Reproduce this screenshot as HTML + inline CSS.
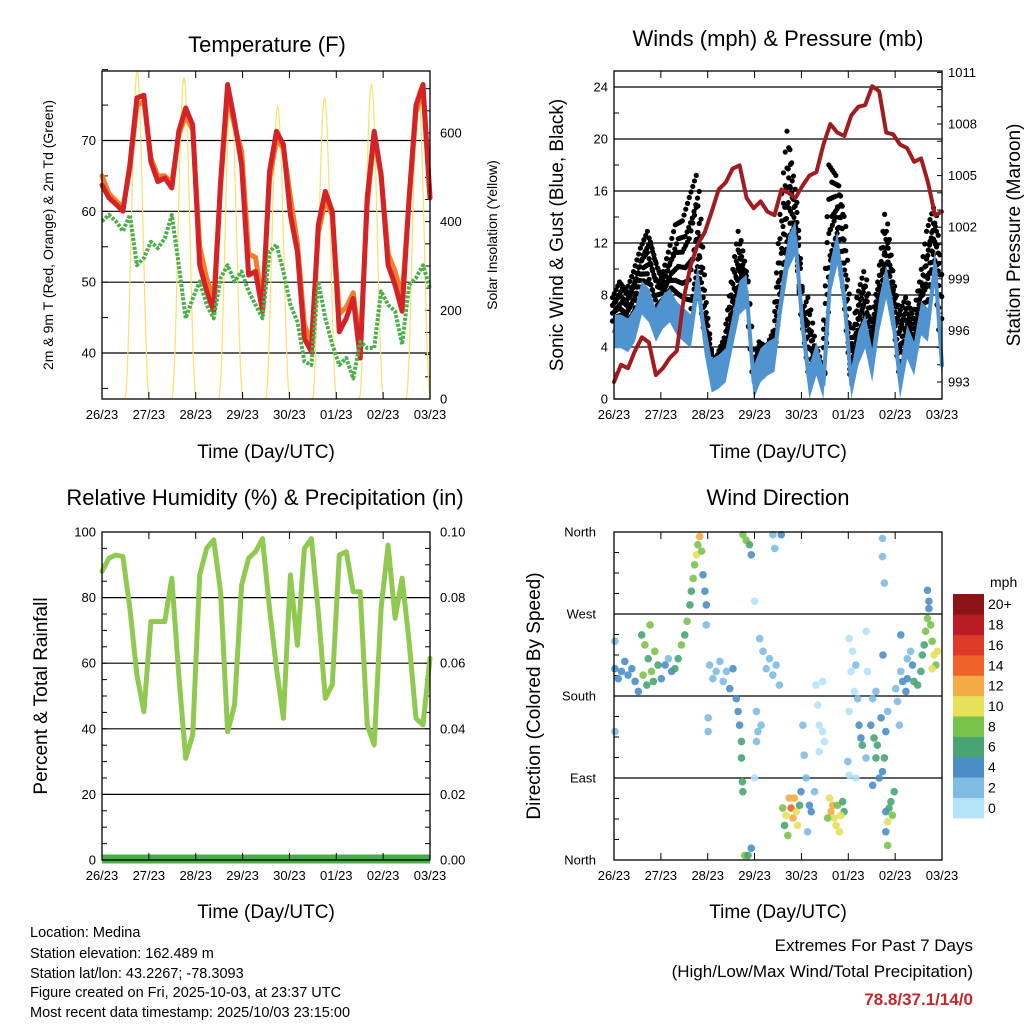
<!DOCTYPE html>
<html><head><meta charset="utf-8"><style>
html,body{margin:0;padding:0;background:#fff;}
svg{display:block;font-family:"Liberation Sans",sans-serif;}
</style></head><body>
<svg id="s" width="1024" height="1024" viewBox="0 0 1024 1024">
<rect width="1024" height="1024" fill="#fff"/>
<g id="texts" fill="#000">
<text x="267" y="52" font-size="22" text-anchor="middle">Temperature (F)</text>
<text x="778" y="46" font-size="22" text-anchor="middle">Winds (mph) &amp; Pressure (mb)</text>
<text x="265" y="505" font-size="22" text-anchor="middle">Relative Humidity (%) &amp; Precipitation (in)</text>
<text x="778" y="505" font-size="22" text-anchor="middle">Wind Direction</text>
<text x="266" y="458" font-size="19" text-anchor="middle">Time (Day/UTC)</text>
<text x="778" y="458" font-size="19" text-anchor="middle">Time (Day/UTC)</text>
<text x="266" y="918" font-size="19" text-anchor="middle">Time (Day/UTC)</text>
<text x="778" y="918" font-size="19" text-anchor="middle">Time (Day/UTC)</text>
<text transform="translate(53,235) rotate(-90)" font-size="14" text-anchor="middle">2m &amp; 9m T (Red, Orange) &amp; 2m Td (Green)</text>
<text transform="translate(497,235) rotate(-90)" font-size="14" text-anchor="middle">Solar Insolation (Yellow)</text>
<text transform="translate(563,235) rotate(-90)" font-size="19" text-anchor="middle">Sonic Wind &amp; Gust (Blue, Black)</text>
<text transform="translate(1020,235) rotate(-90)" font-size="19" text-anchor="middle">Station Pressure (Maroon)</text>
<text transform="translate(47,696) rotate(-90)" font-size="19" text-anchor="middle">Percent &amp; Total Rainfall</text>
<text transform="translate(540,696) rotate(-90)" font-size="19" text-anchor="middle">Direction (Colored By Speed)</text>
<text x="990" y="587" font-size="14" text-anchor="start">mph</text>
<g font-size="14.5">
<text x="30" y="937">Location: Medina</text>
<text x="30" y="958">Station elevation: 162.489 m</text>
<text x="30" y="978">Station lat/lon: 43.2267; -78.3093</text>
<text x="30" y="997">Figure created on Fri, 2025-10-03, at 23:37 UTC</text>
<text x="30" y="1017">Most recent data timestamp: 2025/10/03 23:15:00</text>
</g>
<text x="973" y="951" font-size="17" text-anchor="end">Extremes For Past 7 Days</text>
<text x="973" y="977" font-size="17" text-anchor="end">(High/Low/Max Wind/Total Precipitation)</text>
<text x="973" y="1005" font-size="17" font-weight="bold" fill="#c8252b" text-anchor="end">78.8/37.1/14/0</text>
</g>
</svg>
<script>
// ---------- data ----------
const dayLabels = ["26/23","27/23","28/23","29/23","30/23","01/23","02/23","03/23"];
const nDays = 7;
const nSamples = 48;
const temp9m = [63.7,61.9,61,60,66.6,76,76.4,67,64.2,64.7,63.3,71.3,74.6,72.2,52.4,48.7,45.9,64.2,77.9,72.7,66.6,51,51.5,45.9,65.6,71.3,69.4,59.5,54.3,42,40.2,58.1,62.8,60,43,44.9,47.7,39.3,61.9,71.3,65.2,52.4,49.6,45.9,61.9,75,77.9,61.9];
const temp2m = [65,62.5,61.5,60.5,66,75,75.5,67.5,65,65,64,70.8,73.5,71.5,55,50.5,47.5,63.5,76.5,72,68.5,54,53.5,47,64.5,70,69,62,55.5,44,41.5,57,61.5,59.5,45.5,46.5,48.5,41,61,70.5,65,54,51.5,48,61.5,74,77,62];
const dewpoint = [58.6,59.5,58.6,57.2,59.5,52.4,53.4,55.7,54.8,56.2,59.5,52.4,44.9,47.7,50.1,46.8,44.9,50.6,52.4,50.1,51.5,48.7,46.8,44.9,54.3,55.3,51.5,46.8,44.4,38.8,38.3,50.1,44.9,41.2,38.3,39.3,36.4,41.6,40.7,40.7,48.7,46.8,45.9,41.2,49.6,50.6,52.4,49.1];
const solarPeaks = [740,725,685,660,680,710,700];
const sunrise = 0.49, sunset = 1.01;
const tempTicks = [40,50,60,70];
const solarTicks = [0,200,400,600];
const pressure = [993.0,994.0,993.8,994.8,995.6,995.3,993.4,993.8,994.4,994.8,997.9,999.8,1001,1001.7,1002.9,1004.2,1004.6,1005.4,1005.6,1003.7,1003.1,1003.5,1002.9,1002.7,1004.2,1004.0,1003.7,1004.4,1005.0,1005.2,1006.8,1008.0,1007.5,1007.3,1008.5,1009.0,1009.1,1010.2,1009.9,1007.5,1007.4,1006.8,1006.6,1005.8,1006.0,1004.6,1002.7,1002.9];
const windSpeed = [5.2,5.2,4.9,5.7,7.8,7.2,5.7,6.7,7.2,6.2,5.7,5.2,9.0,4.7,1.8,2.1,2.6,5.2,7.8,8.3,1.3,2.6,3.1,3.4,7.8,11.3,12.4,5.7,1.3,3.1,1.1,9.3,11.6,7.8,1.1,3.9,5.2,2.6,6.5,9.0,6.2,1.3,4.4,3.1,6.2,5.7,10.3,2.6];
const windGust = [7.8,9.0,8.3,9.8,11.6,12.9,10.8,9.3,11.3,13.4,13.7,15.5,17.2,7.8,2.6,3.4,4.7,9.0,12.9,9.0,2.1,4.4,3.9,5.2,14.2,20.6,15.5,6.5,7.8,2.6,2.1,18.0,17.2,14.2,3.1,7.8,9.8,5.2,9.0,14.2,9.0,6.5,7.8,6.2,9.0,12.9,14.7,9.0];
const windTicks = [0,4,8,12,16,20,24];
const pressTicks = [993,996,999,1002,1005,1008,1011];
const rh = [88,92,93,92.5,76.7,56.4,45.2,72.7,72.7,72.7,85.9,56.4,31,38.1,86.9,95,97.6,81.8,39.1,47.3,83.8,92,94,98,76.7,58.4,43.2,86.9,65.5,95,98,75.7,49.3,53.4,93,94,81.8,81.8,41.2,35.1,76.7,96,73.7,85.9,66.6,43.2,41.2,61.5];
const precip = [0,0,0,0,0,0,0,0];
const rhTicks = [0,20,40,60,80,100];
const precipTicks = ["0.00","0.02","0.04","0.06","0.08","0.10"];
const dirDay = [.02,.09,.16,.23,.30,.38,.45,.52,.02,.02,.59,.66,.73,.77,.80,.87,.94,.62,.70,.84,1.01,1.09,1.16,1.23,1.30,1.37,1.44,1.51,1.56,1.62,1.65,1.69,1.72,1.76,1.79,1.83,1.87,1.90,1.94,1.97,1.97,2.04,2.11,2.18,2.26,2.33,2.40,2.47,2.54,2.61,2.65,2.68,2.72,2.72,2.74,2.75,2.01,2.01,2.75,2.82,2.89,2.93,2.79,2.86,2.93,3.00,3.11,3.18,3.25,3.32,3.39,3.46,3.53,3.04,3.07,3.04,3.14,3.00,3.39,3.43,3.57,3.60,3.64,3.67,3.74,3.78,3.82,3.85,3.89,3.92,3.71,3.96,3.99,4.03,4.06,4.10,4.17,4.21,4.28,4.31,4.35,4.38,4.45,4.38,4.49,4.45,4.13,4.60,4.63,4.67,4.70,4.74,4.77,4.81,4.88,4.91,4.56,4.84,5.02,5.09,5.06,5.13,5.02,5.16,5.20,5.23,5.27,5.30,5.38,5.41,5.38,5.02,5.16,4.99,5.48,5.55,5.59,5.62,5.66,5.73,5.77,5.80,5.52,5.59,5.70,5.84,5.52,5.73,5.73,5.77,5.74,5.80,5.84,5.87,5.91,5.94,5.98,5.84,5.80,6.01,6.05,6.09,6.12,6.16,6.23,6.26,6.33,6.37,6.40,6.48,6.55,6.12,6.26,6.58,6.62,6.65,6.69,6.72,6.69,6.76,6.79,6.83,6.87,6.90,6.79,6.72];
const dirDeg = [210,199,207,218,203,210,196,185,240,141,247,236,221,258,207,229,214,203,192,196,199,214,221,207,210,221,236,247,262,280,295,309,324,335,346,355,339,313,295,280,258,214,199,207,218,196,207,188,210,177,163,148,130,112,86,75,156,141,357,351,346,335,5,5,13,284,243,229,210,221,203,214,192,163,141,130,148,90,357,342,357,57,38,49,68,57,46,68,53,38,27,60,75,148,115,90,60,53,75,192,170,148,141,119,130,196,31,68,53,60,46,38,60,31,64,53,46,49,243,229,207,185,163,214,177,148,134,126,112,207,251,93,90,108,148,134,112,126,90,97,112,141,177,185,156,163,82,353,333,304,225,53,42,57,64,49,75,16,31,188,174,148,207,196,185,199,229,214,196,192,207,247,221,225,236,251,265,276,296,258,240,225,214,229,210,284];
const dirSpeed = [4,4,4,4,4,4,4,4,2,2,6,8,6,8,8,8,6,8,6,6,4,4,2,4,6,6,8,6,8,6,6,8,8,10,8,12,8,4,4,4,2,2,2,2,2,2,2,4,4,4,4,4,6,6,6,6,2,2,8,8,6,4,8,6,4,0,2,2,2,2,2,2,2,2,2,2,2,0,2,2,4,8,6,10,12,14,12,12,10,10,8,6,4,2,2,2,4,4,2,0,0,0,0,0,0,0,2,10,12,12,10,10,8,10,6,6,8,10,0,0,0,0,0,2,2,4,4,6,2,0,0,0,0,2,4,6,6,6,4,4,6,4,2,2,4,2,4,2,2,2,4,4,10,6,6,8,6,8,4,2,2,2,2,4,4,4,2,4,6,6,6,4,2,6,6,8,8,4,4,8,8,10,8,10,10,4];
const dirLabels = ["North","East","South","West","North"];
const speedBins = ["0","2","4","6","8","10","12","14","16","18","20+"];
const speedColors = ["#b4e2f7","#80bbe3","#4a8ec6","#48a572","#7ac34b","#e6e05a","#f6aa45","#ef6229","#dd3a29","#b81b24","#8c1418"];

// ---------- helpers ----------
const NS = "http://www.w3.org/2000/svg";
const svg = document.getElementById("s");
function mk(tag, attrs, parent) {
  const e = document.createElementNS(NS, tag);
  for (const k in attrs) e.setAttribute(k, attrs[k]);
  (parent || svg).appendChild(e);
  return e;
}
function lin(d0, d1, r0, r1) { return v => r0 + (v - d0) / (d1 - d0) * (r1 - r0); }
function panel(name, x0, y0, w, h) {
  const g = mk("g", {});
  
  
  return {g, x0, y0, w, h, xs: lin(0, nDays, x0, x0 + w), xi: lin(0, nSamples - 1, x0, x0 + w)};
}
function frame(p) {
  const r = mk("rect", {x:p.x0, y:p.y0, width:p.w, height:p.h, fill:"none", stroke:"#000", "stroke-width":1.3}, p.g);
  
  
  dayLabels.forEach((lab, i) => {
    const x = p.xs(i);
    mk("line", {x1:x, y1:p.y0+p.h, x2:x, y2:p.y0+p.h-7, stroke:"#000"}, p.g);
    mk("line", {x1:x, y1:p.y0, x2:x, y2:p.y0+7, stroke:"#000"}, p.g);
    const t = mk("text", {x:x, y:p.y0+p.h+20, "font-size":13, "text-anchor":"middle"}, p.g);
    t.textContent = lab;
    
    
  });
}
function hline(p, y, name) {
  const l = mk("line", {x1:p.x0, y1:y, x2:p.x0+p.w, y2:y, stroke:"#000", "stroke-width":1.2}, p.g);
  
  
}
function ylabel(p, x, y, txt, anchor, name) {
  const t = mk("text", {x:x, y:y+4.5, "font-size":13, "text-anchor":anchor}, p.g);
  t.textContent = txt;
  
  
}
function poly(p, xs, ys, attrs, name) {
  const pts = xs.map((x, i) => x.toFixed(1) + "," + ys[i].toFixed(1)).join(" ");
  const l = mk("polyline", Object.assign({points:pts, fill:"none", "stroke-linejoin":"round", "stroke-linecap":"round"}, attrs), p.g);
  
  
  return l;
}
const idx = Array.from({length:nSamples}, (_, i) => i);

// ---------- Temperature ----------
(function(){
  const p = panel("temperature-chart", 102, 71, 328, 328);
  const ty = lin(40, 70, 353, 140.5);
  const sy = lin(0, 600, 399, 133);
  tempTicks.forEach(v => { hline(p, ty(v), "temp-gridline"); ylabel(p, 96, ty(v), String(v), "end", "temp-tick-label"); });
  for (let v = 35; v <= 80; v += 5) { mk("line", {x1:p.x0, y1:ty(v), x2:p.x0+6, y2:ty(v), stroke:"#000"}, p.g); }
  solarTicks.forEach(v => ylabel(p, 440, sy(v), String(v), "start", "solar-tick-label"));
  for (let v = 0; v <= 700; v += 50) { mk("line", {x1:p.x0+p.w, y1:sy(v), x2:p.x0+p.w-5, y2:sy(v), stroke:"#000"}, p.g); }
  solarPeaks.forEach((pk, d) => {
    const xs = [], ys = [];
    for (let k = 0; k <= 30; k++) {
      const f = sunrise + (sunset - sunrise) * k / 30;
      const v = pk * Math.pow(Math.sin(Math.PI * k / 30), 2);
      xs.push(p.xs(Math.min(nDays, d + f))); ys.push(sy(v));
    }
    poly(p, xs, ys, {stroke:"#f8e06a", "stroke-width":1.2}, "solar-line-day-" + d);
  });
  poly(p, idx.map(p.xi), temp2m.map(ty), {stroke:"#f47d2a", "stroke-width":5}, "temp-2m-line");
  poly(p, idx.map(p.xi), temp9m.map(ty), {stroke:"#d42226", "stroke-width":5}, "temp-9m-line");
  poly(p, idx.map(p.xi), dewpoint.map(ty), {stroke:"#4bb04a", "stroke-width":4, "stroke-dasharray":"3,1.5", "stroke-linecap":"butt"}, "dewpoint-line");
  frame(p);
})();

// ---------- Winds ----------
(function(){
  const p = panel("winds-chart", 614, 71, 328, 328);
  const wy = lin(0, 24, 399, 87);
  const py = lin(993, 1011, 382, 72.4);
  windTicks.forEach(v => { hline(p, wy(v), "wind-gridline"); ylabel(p, 608, wy(v), String(v), "end", "wind-tick-label"); });
  for (let v = 0; v <= 25; v += 2) { mk("line", {x1:p.x0, y1:wy(v), x2:p.x0+5, y2:wy(v), stroke:"#000"}, p.g); }
  pressTicks.forEach(v => ylabel(p, 948, py(v), String(v), "start", "pressure-tick-label"));
  for (let v = 993; v <= 1011; v += 1) { mk("line", {x1:p.x0+p.w, y1:py(v), x2:p.x0+p.w-5, y2:py(v), stroke:"#000"}, p.g); }
  const gd = mk("g", {fill:"#000"}, p.g);
  
  
  for (let i = 0; i < nSamples - 1; i++) {
    for (let j = 0; j < 4; j++) {
      const f = j / 4;
      const s = windSpeed[i] + (windSpeed[i+1] - windSpeed[i]) * f;
      const g = windGust[i] + (windGust[i+1] - windGust[i]) * f;
      for (let k = 0; k <= 6; k++) {
        const v = s + 0.8 + (g - s - 0.8) * k / 6;
        mk("circle", {cx:p.xi(i + f) + (k % 2 ? 1.5 : -1.5), cy:wy(v), r:2.6}, gd);
      }
    }
  }
  // sustained band
  const up = idx.map(i => p.xi(i).toFixed(1) + "," + wy(windSpeed[i] + 1.3).toFixed(1));
  const dn = idx.slice().reverse().map(i => p.xi(i).toFixed(1) + "," + wy(Math.max(0, windSpeed[i] - 1.3)).toFixed(1));
  const band = mk("polygon", {points: up.concat(dn).join(" "), fill:"#4f94d0"}, p.g);
  
  
  poly(p, idx.map(p.xi), windSpeed.map(wy), {stroke:"#4f94d0", "stroke-width":4}, "sustained-wind-line");
  poly(p, idx.map(p.xi), pressure.map(py), {stroke:"#a01c1f", "stroke-width":4}, "pressure-line");
  frame(p);
})();

// ---------- Relative humidity ----------
(function(){
  const p = panel("humidity-chart", 102, 532, 328, 328);
  const ry = lin(0, 100, 860, 532);
  rhTicks.forEach((v, i) => {
    if (v > 0 && v < 100) hline(p, ry(v), "rh-gridline");
    ylabel(p, 96, ry(v), String(v), "end", "rh-tick-label");
    ylabel(p, 440, ry(v), precipTicks[i], "start", "precip-tick-label");
  });
  for (let v = 0; v <= 100; v += 5) {
    mk("line", {x1:p.x0, y1:ry(v), x2:p.x0+5, y2:ry(v), stroke:"#000"}, p.g);
    mk("line", {x1:p.x0+p.w, y1:ry(v), x2:p.x0+p.w-5, y2:ry(v), stroke:"#000"}, p.g);
  }
  poly(p, idx.map(p.xi), rh.map(ry), {stroke:"#8fc94f", "stroke-width":5}, "rh-line");
  const pxs = precip.map((v, i) => p.xs(i));
  const pys = precip.map(v => ry(v * 1000) - 1);
  poly(p, pxs, pys, {stroke:"#47ad47", "stroke-width":9, "stroke-linecap":"butt"}, "precip-line");
  frame(p);
})();

// ---------- Wind direction ----------
(function(){
  const p = panel("wind-direction-chart", 614, 532, 328, 328);
  const dy = lin(0, 360, 860, 532);
  dirLabels.forEach((lab, i) => {
    const v = i * 90;
    if (i > 0 && i < 4) hline(p, dy(v), "direction-gridline");
    ylabel(p, 596, dy(v), lab, "end", "direction-tick-label");
  });
  for (let v = 0; v <= 360; v += 22.5) { mk("line", {x1:p.x0, y1:dy(v), x2:p.x0+5, y2:dy(v), stroke:"#000"}, p.g); }
  const pg = mk("g", {}, p.g);
  
  
  dirDay.forEach((d, i) => {
    const bin = Math.min(10, Math.round(dirSpeed[i] / 2));
    const c = mk("circle", {cx:p.xs(d), cy:dy(dirDeg[i]), r:3.8, fill:speedColors[bin], "fill-opacity":0.9}, pg);
    
    
  });
  frame(p);
  const cb = mk("g", {}, svg);
  
  
  const cbTop = 594, cbH = 224, bh = cbH / speedBins.length;
  speedBins.forEach((lab, i) => {
    const y = cbTop + cbH - (i + 1) * bh;
    const r = mk("rect", {x:953, y:y, width:31, height:bh + 0.3, fill:speedColors[i]}, cb);
    
    
    const t = mk("text", {x:988, y:y + bh / 2 + 5, "font-size":14}, cb);
    t.textContent = lab;
    
    
  });
})();
</script>
</body></html>
